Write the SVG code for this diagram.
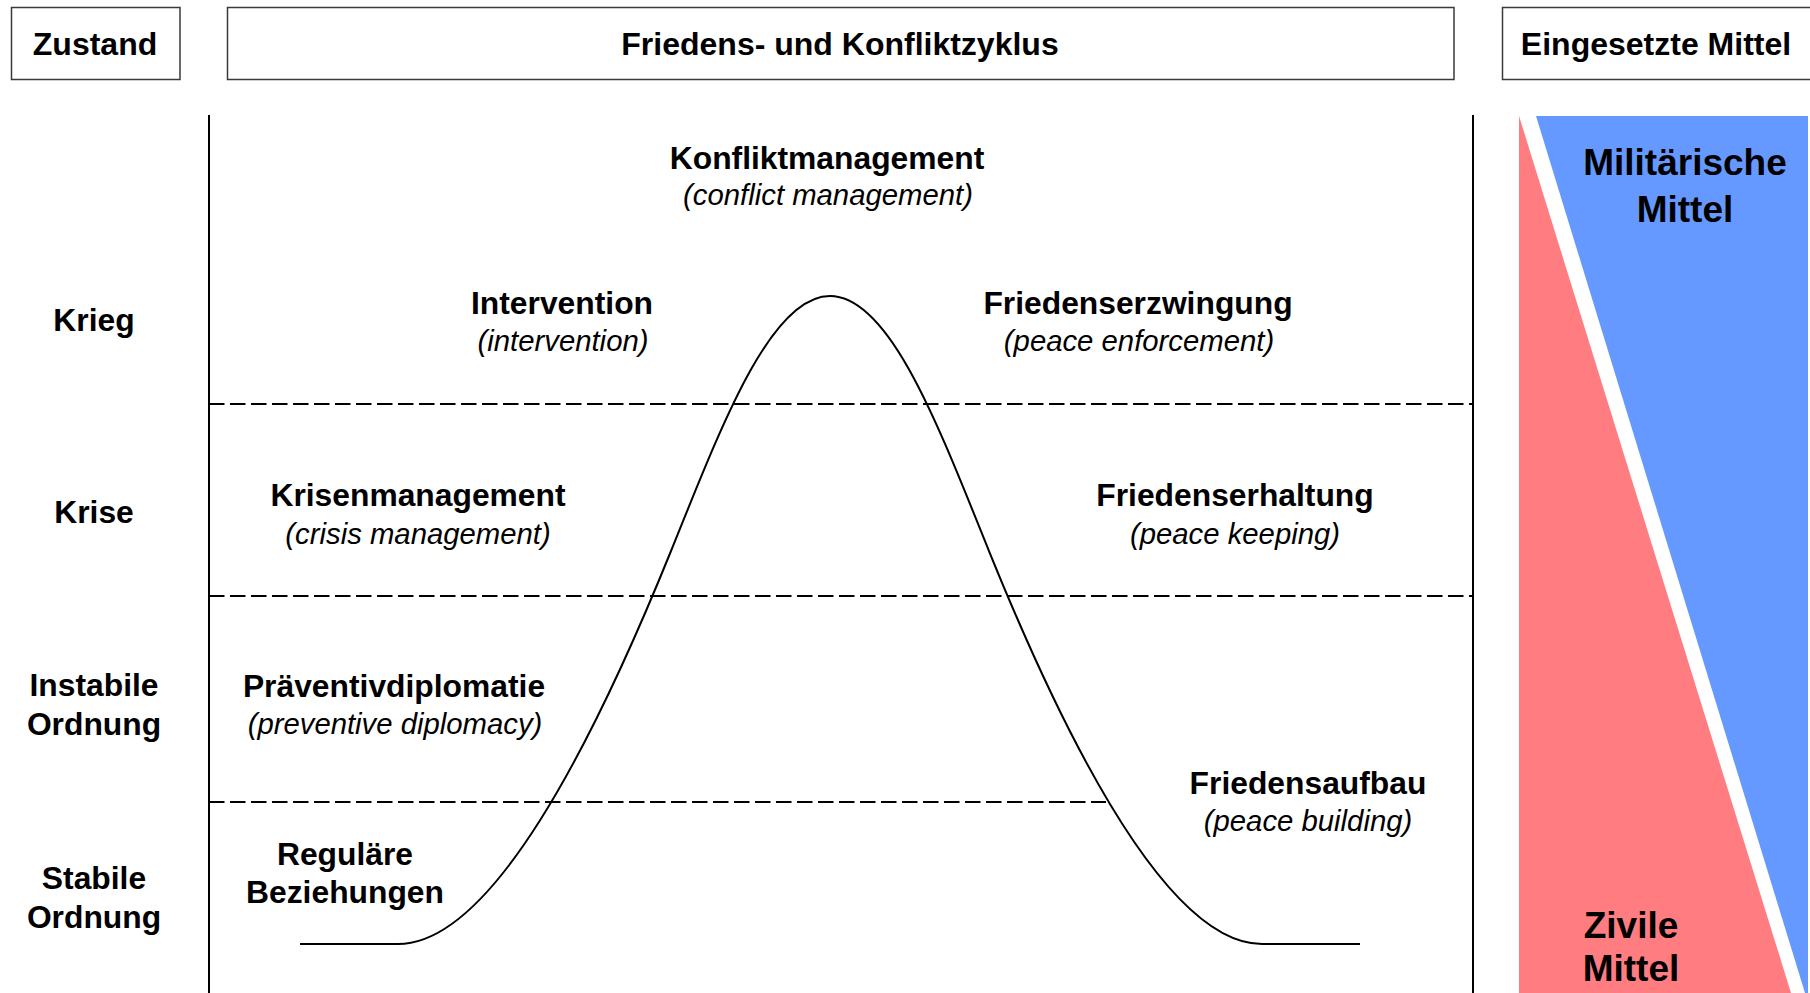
<svg xmlns="http://www.w3.org/2000/svg" width="1810" height="993" viewBox="0 0 1810 993">
<style>
.box{fill:#fff;stroke:#3a3a3a;stroke-width:1.5}
.hd{font-family:"Liberation Sans",Arial,sans-serif;font-weight:bold;font-size:32px;fill:#000;text-anchor:middle}
.b{font-family:"Liberation Sans",Arial,sans-serif;font-weight:bold;font-size:31.8px;fill:#000;text-anchor:middle}
.i{font-family:"Liberation Sans",Arial,sans-serif;font-style:italic;font-size:29.3px;fill:#000;text-anchor:middle}
.big{font-family:"Liberation Sans",Arial,sans-serif;font-weight:bold;font-size:37px;fill:#000;text-anchor:middle}
.axis{stroke:#000;stroke-width:2;fill:none}
.dash{stroke:#000;stroke-width:2;stroke-dasharray:15.5 5.5;fill:none}
.curve{stroke:#000;stroke-width:2;fill:none}
</style>
<rect width="1810" height="993" fill="#fff"/>
<g id="header-zustand"><rect class="box" x="11.5" y="7.5" width="168.5" height="72"/><text class="hd" x="95" y="55">Zustand</text></g>
<g id="header-zyklus"><rect class="box" x="227.5" y="7.5" width="1226.5" height="72"/><text class="hd" x="840" y="55">Friedens- und Konfliktzyklus</text></g>
<g id="header-mittel"><rect class="box" x="1502.5" y="7.5" width="330" height="72"/><text class="hd" x="1656" y="55">Eingesetzte Mittel</text></g>

<g id="mittel-shapes">
<polygon points="1519,116 1519,993 1791,993" fill="#FF7C80"/>
<polygon points="1536,116 1808,116 1808,993 1805,993" fill="#6699FF"/>
<text class="big" x="1685" y="175">Militärische</text>
<text class="big" x="1685" y="222">Mittel</text>
<text class="big" x="1631" y="938">Zivile</text>
<text class="big" x="1631" y="981">Mittel</text>
</g>

<g id="connectors">
<line class="axis" x1="209" y1="115" x2="209" y2="993"/>
<line class="axis" x1="1473" y1="115" x2="1473" y2="993"/>
<line class="dash" x1="209" y1="404" x2="1473" y2="404"/>
<line class="dash" x1="209" y1="596" x2="1473" y2="596"/>
<line class="dash" x1="209" y1="802" x2="1106" y2="802"/>
<path class="curve" d="M300,944 L398,944 C478,944 571,798 671,551 C721,427.4 770,296 830,296 C890,296 939,427.4 989,551 C1089,798 1182,944 1262,944 L1360,944"/>
</g>

<g id="zustand-labels">
<text class="b" x="94" y="331">Krieg</text>
<text class="b" x="94" y="523">Krise</text>
<text class="b" x="94" y="696">Instabile</text>
<text class="b" x="94" y="735">Ordnung</text>
<text class="b" x="94" y="889">Stabile</text>
<text class="b" x="94" y="928">Ordnung</text>
</g>

<g id="node-konfliktmanagement"><text class="b" x="827" y="169">Konfliktmanagement</text><text class="i" x="828" y="205">(conflict management)</text></g>
<g id="node-intervention"><text class="b" x="562" y="314">Intervention</text><text class="i" x="563" y="351">(intervention)</text></g>
<g id="node-friedenserzwingung"><text class="b" x="1138" y="314">Friedenserzwingung</text><text class="i" x="1139" y="351">(peace enforcement)</text></g>
<g id="node-krisenmanagement"><text class="b" x="418" y="506">Krisenmanagement</text><text class="i" x="418" y="544">(crisis management)</text></g>
<g id="node-friedenserhaltung"><text class="b" x="1235" y="506">Friedenserhaltung</text><text class="i" x="1235" y="544">(peace keeping)</text></g>
<g id="node-praeventivdiplomatie"><text class="b" x="394" y="697">Präventivdiplomatie</text><text class="i" x="395" y="734">(preventive diplomacy)</text></g>
<g id="node-friedensaufbau"><text class="b" x="1308" y="794">Friedensaufbau</text><text class="i" x="1308" y="831">(peace building)</text></g>
<g id="node-regulaere"><text class="b" x="345" y="865">Reguläre</text><text class="b" x="345" y="903">Beziehungen</text></g>
</svg>
